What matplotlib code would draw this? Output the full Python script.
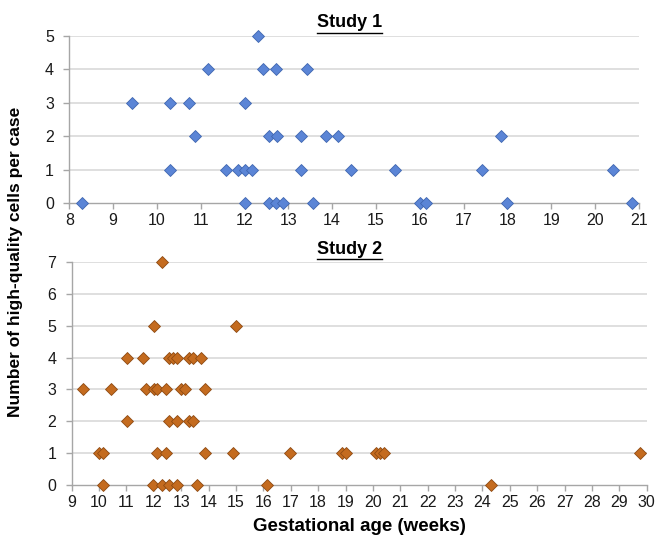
import matplotlib
matplotlib.use("Agg")
import matplotlib.pyplot as plt
from matplotlib.lines import Line2D

plt.rcParams['font.family'] = ['Liberation Sans', 'DejaVu Sans']

# Study 1: gestational age (weeks) and number of cells
study1_age = [8.30, 9.44, 10.30, 10.30, 10.73, 10.86, 11.16, 11.57, 11.84, 12.01,
              12.01, 12.01, 12.16, 12.30, 12.43, 12.71, 12.56, 12.73, 12.56, 12.71,
              12.87, 13.43, 13.28, 13.28, 13.57, 13.85, 14.14, 14.43, 15.44, 16.00,
              16.15, 17.43, 17.86, 18.00, 20.42, 20.85]
study1_cells = [0, 3, 3, 1, 3, 2, 4, 1, 1, 1,
                3, 0, 1, 5, 4, 4, 2, 2, 0, 0,
                0, 4, 2, 1, 0, 2, 2, 1, 1, 0,
                0, 1, 2, 0, 1, 0]

# Study 2
study2_age = [9.43, 10.01, 10.13, 10.13, 10.42, 11.01, 11.01, 11.59, 11.71, 12.00,
              12.00, 12.12, 12.10, 11.96, 12.30, 12.30, 12.44, 12.44, 12.56, 12.56,
              12.56, 12.71, 12.85, 12.85, 12.85, 12.98, 13.15, 13.29, 13.44, 13.27,
              13.44, 13.56, 13.71, 13.87, 13.87, 14.88, 15.00, 16.13, 16.99, 18.88,
              19.01, 20.10, 20.25, 20.40, 24.30, 29.74]
study2_cells = [3, 1, 1, 0, 3, 4, 2, 4, 3, 5,
                3, 3, 1, 0, 7, 0, 3, 1, 4, 2,
                0, 4, 4, 2, 0, 3, 3, 4, 4, 2,
                2, 0, 4, 3, 1, 1, 5, 0, 1, 1,
                1, 1, 1, 1, 0, 1]

study1_xticks = list(range(8, 22))
study1_yticks = list(range(0, 6))
study2_xticks = list(range(9, 31))
study2_yticks = list(range(0, 8))


def style_axes(ax, xticks, yticks):
    ax.set_xlim(xticks[0], xticks[-1])
    ax.set_ylim(yticks[0], yticks[-1])
    ax.set_xticks(xticks)
    ax.set_yticks(yticks)
    ax.spines['top'].set_visible(False)
    ax.spines['right'].set_visible(False)
    for s in ('left', 'bottom'):
        ax.spines[s].set_color('#A6A6A6')
        ax.spines[s].set_linewidth(1.0)
    ax.tick_params(axis='both', colors='#A6A6A6', labelcolor='#1a1a1a',
                   labelsize=11.5, length=4, width=1.0, direction='out')
    ax.tick_params(axis='x', pad=3)
    ax.tick_params(axis='y', pad=7)
    for y in yticks[1:]:
        ax.axhline(y, color='#DCDCDC', lw=1.3, zorder=0)


def underlined_title(fig, x, y, text):
    t = fig.text(x, y, text, ha='center', va='center', fontsize=13,
                 fontweight='bold')
    fig.canvas.draw()
    bb = t.get_window_extent().transformed(fig.transFigure.inverted())
    ly = bb.y0 - 0.002
    fig.add_artist(Line2D([bb.x0, bb.x1], [ly, ly], transform=fig.transFigure,
                          color='black', lw=1.0))


fig = plt.figure(figsize=(6.6, 5.46), dpi=100)
ax1 = fig.add_axes([0.105, 0.628, 0.863, 0.306])
ax2 = fig.add_axes([0.1086, 0.112, 0.8714, 0.408])

style_axes(ax1, study1_xticks, study1_yticks)
style_axes(ax2, study2_xticks, study2_yticks)

ax1.plot(study1_age, study1_cells, 'D', ms=6.4, color='#5B85D6',
         mec='#3F66B0', mew=0.6, clip_on=False, zorder=3)
ax2.plot(study2_age, study2_cells, 'D', ms=6.6, color='#C46B1F',
         mec='#8E4A12', mew=0.6, clip_on=False, zorder=3)

underlined_title(fig, 0.530, 0.958, 'Study 1')
underlined_title(fig, 0.530, 0.543, 'Study 2')

fig.text(0.545, 0.035, 'Gestational age (weeks)', ha='center', va='center',
         fontsize=13.5, fontweight='bold')
fig.text(0.024, 0.52, 'Number of high-quality cells per case', ha='center',
         va='center', rotation=90, fontsize=12.5, fontweight='bold')

fig.savefig('out.png', dpi=100)
